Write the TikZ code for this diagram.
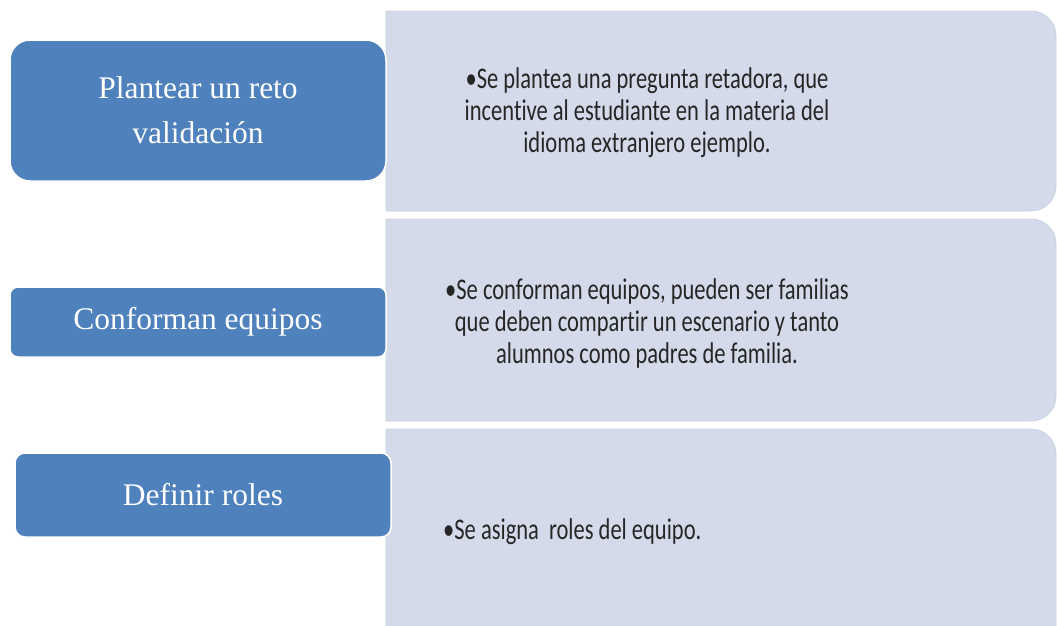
\documentclass[tikz,border=0pt]{standalone}
\usepackage{fontspec}
\setmainfont{Liberation Serif}
\newfontfamily\bodyfont[FakeStretch=0.75,Ligatures={NoCommon}]{Carlito}
\definecolor{blueA}{HTML}{4F81BD}
\definecolor{lightA}{HTML}{D4DAEA}
\definecolor{lightB}{HTML}{CAD2E4}
\newcommand{\lightpanel}[2]{%
  \path[lightbox] (386,#1) -- ({1056-25},#1)
    arc[start angle=270,end angle=360,radius=25] -- (1056,{#2-25})
    arc[start angle=0,end angle=90,radius=25] -- (386,#2) -- cycle;}
\begin{document}
\begin{tikzpicture}[x=1pt,y=-1pt,
  bluebox/.style={fill=blueA, draw=white, line width=1.5pt, inner sep=0pt,
    text=white, font=\fontsize{31.5}{45}\selectfont, align=center},
  lightbox/.style={fill=lightA, draw=lightB, line width=0.8pt},
  bodytext/.style={text=black!85, font=\bodyfont\fontsize{30}{32}\selectfont,
    align=center, inner sep=0pt}]
\useasboundingbox (0,0) rectangle (1057,625);
\clip (0,0) rectangle (1057,625);
\fill[white] (0,0) rectangle (1057,625);
% light panels
\lightpanel{11}{211}
\lightpanel{219}{421}
\lightpanel{429}{660}
% blue boxes
\node[bluebox, rounded corners=20, minimum width=376, minimum height=141]
  (b1) at (198,110.5) {Plantear un reto\\validación};
\node[bluebox, rounded corners=8, minimum width=376, minimum height=70]
  (b2) at (198,322) {Conforman equipos};
\node[bluebox, rounded corners=10, minimum width=376, minimum height=84]
  (b3) at (203,495) {Definir roles};
% texts
\node[bodytext] (t1) at (647,113)
  {•Se plantea una pregunta retadora, que\\incentive al estudiante en la materia del\\idioma extranjero ejemplo.};
\node[bodytext] (t2) at (647,323)
  {•Se conforman equipos, pueden ser familias\\que deben compartir un escenario y tanto\\alumnos como padres de familia.};
\node[bodytext, anchor=base west] (t3) at (443,539) {•Se asigna\ \ roles del equipo.};
\end{tikzpicture}
\end{document}
